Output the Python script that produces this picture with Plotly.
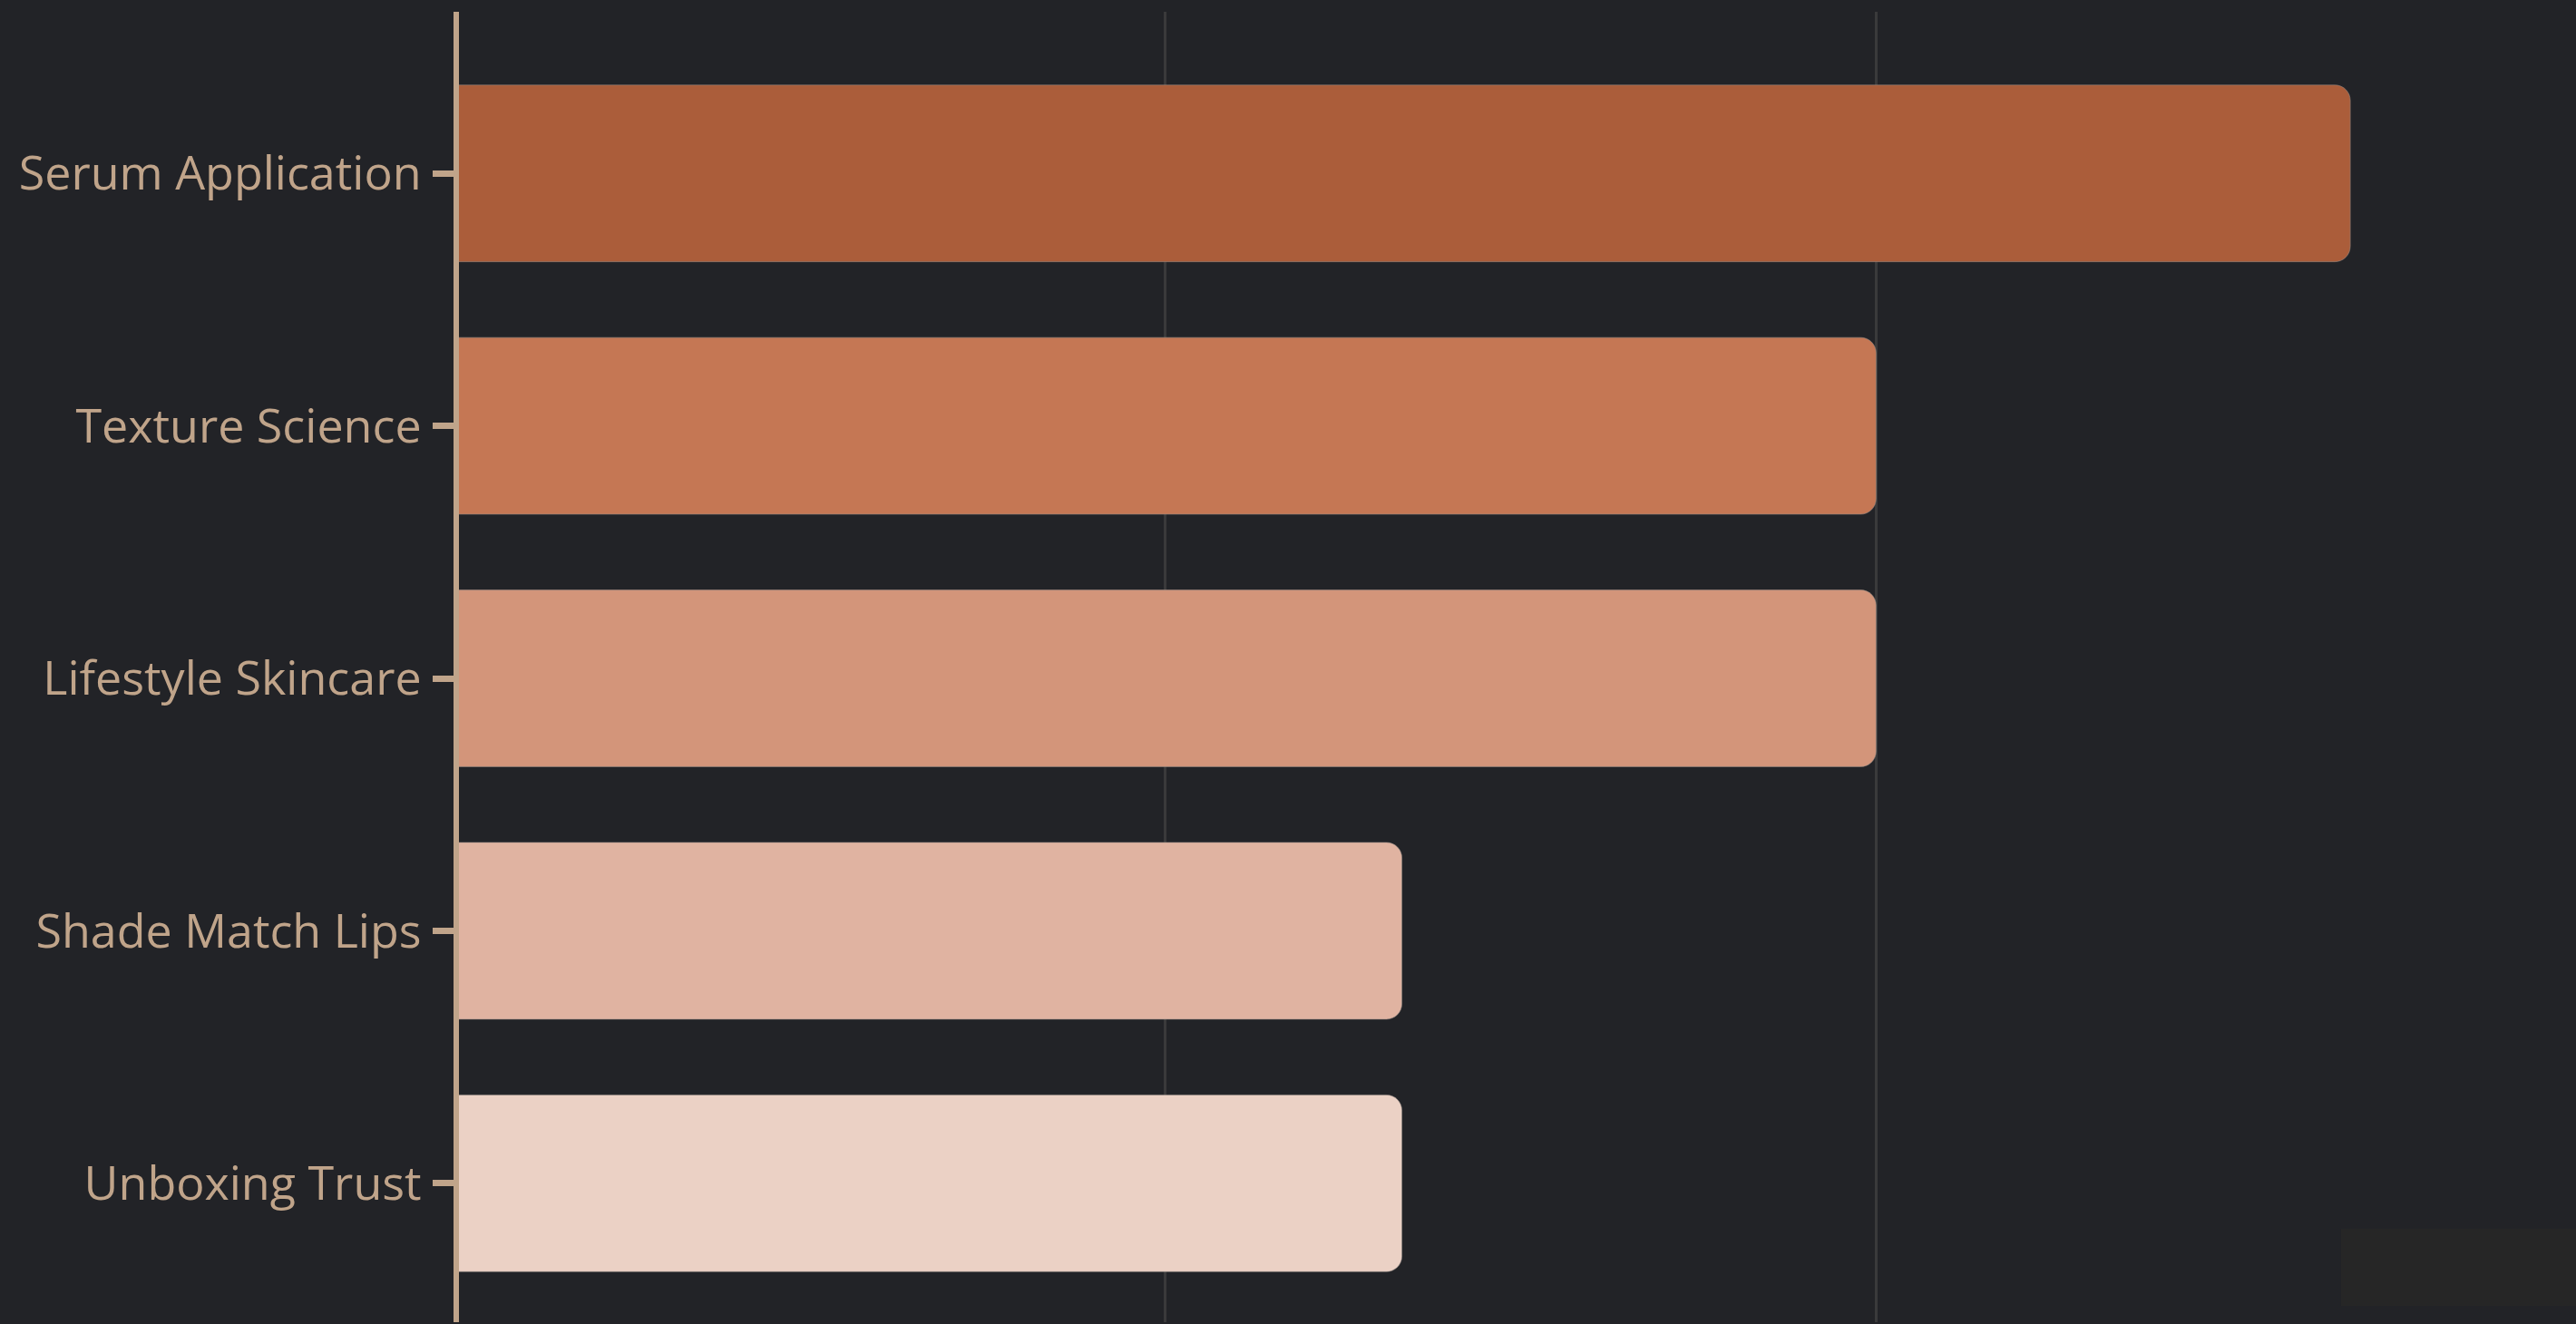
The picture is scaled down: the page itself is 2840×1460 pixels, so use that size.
import plotly.graph_objects as go

categories = ["Serum Application", "Texture Science", "Lifestyle Skincare", "Shade Match Lips", "Unboxing Trust"]
values = [8, 6, 6, 4, 4]
bar_colors = ["#AB5D3A", "#C57754", "#D3957A", "#E0B3A1", "#EBD1C5"]

BG = "#222327"
TXT = "#C0A48A"

fig = go.Figure(
    go.Bar(
        y=categories,
        x=values,
        orientation="h",
        marker=dict(color=bar_colors, line=dict(color="rgba(150,140,135,0.55)", width=1)),
        hoverinfo="skip",
    )
)

fig.update_layout(
    width=2840,
    height=1460,
    paper_bgcolor=BG,
    plot_bgcolor=BG,
    margin=dict(l=506, r=0, t=13, b=2),
    bargap=0.3,
    barcornerradius=17,
    showlegend=False,
    font=dict(family="Open Sans", color=TXT, size=52),
    xaxis=dict(
        range=[0.023, 8.952],
        tickvals=[3, 6],
        showticklabels=False,
        showgrid=True,
        gridcolor="#3A3A3B",
        gridwidth=3,
        zeroline=False,
        showline=False,
        ticks="",
        fixedrange=True,
    ),
    yaxis=dict(
        type="category",
        range=[4.55, -0.64],
        showline=True,
        linecolor=TXT,
        linewidth=6,
        ticks="outside",
        ticklen=23,
        tickwidth=7,
        tickcolor=TXT,
        ticklabelstandoff=2,
        showgrid=False,
        zeroline=False,
        tickfont=dict(family="Open Sans", size=52, color=TXT),
        fixedrange=True,
    ),
    shapes=[
        dict(
            type="rect", xref="paper", yref="paper",
            x0=0.889, x1=1.0, y0=0.0125, y1=0.0713,
            fillcolor="#262626", line=dict(width=0), layer="below",
        )
    ],
)

fig.write_html(
    "out.html",
    config={"displayModeBar": False},
    post_script="document.body.style.margin='0';document.body.style.background='#222327';document.body.style.overflow='hidden';",
)
